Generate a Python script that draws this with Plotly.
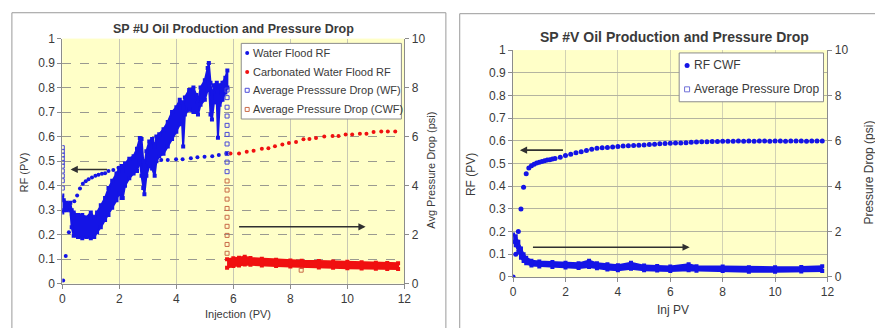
import plotly.graph_objects as go

# ---------------- Left chart (SP #U) data ----------------
wf_rf_x = [0.03, 0.12, 0.23, 0.33, 0.42, 0.52, 0.62, 0.72, 0.82, 0.92, 1.04, 1.16, 1.27, 1.39, 1.5, 1.62,
           1.79, 1.97, 2.2, 2.45, 2.7, 2.95, 3.22, 3.47, 3.7, 3.99, 4.22, 4.51, 4.74, 4.99, 5.26, 5.49, 5.76]
wf_rf_y = [0.013, 0.113, 0.21, 0.28, 0.336, 0.36, 0.388, 0.408, 0.418, 0.426, 0.433, 0.44, 0.444, 0.448, 0.451,
           0.46, 0.464, 0.473, 0.48, 0.488, 0.494, 0.498, 0.502, 0.505, 0.505, 0.508, 0.508, 0.512, 0.516,
           0.518, 0.52, 0.525, 0.531]

cwf_rf_x = [5.9, 6.2, 6.47, 6.71, 7.0, 7.23, 7.46, 7.72, 7.95, 8.2, 8.46, 8.67, 8.9, 9.19, 9.48, 9.69,
            9.94, 10.17, 10.44, 10.67, 10.92, 11.19, 11.42, 11.68]
cwf_rf_y = [0.531, 0.531, 0.538, 0.542, 0.55, 0.553, 0.561, 0.568, 0.574, 0.578, 0.589, 0.59, 0.594, 0.6,
            0.603, 0.603, 0.609, 0.609, 0.612, 0.612, 0.619, 0.621, 0.621, 0.621]

# Average pressure drop (WF), psi: dense band envelope
wf_dp_x = [0.00, 0.05, 0.15, 0.28, 0.33, 0.40, 0.55, 0.70, 0.85, 1.00, 1.12, 1.22, 1.35, 1.50, 1.62, 1.75,
           1.90, 2.00, 2.08, 2.12, 2.20, 2.35, 2.50, 2.62, 2.72, 2.78, 2.84, 2.88, 2.95, 3.05, 3.15, 3.24,
           3.30, 3.40, 3.55, 3.70, 3.85, 4.00, 4.12, 4.20, 4.24, 4.30, 4.45, 4.60, 4.70, 4.76, 4.85, 5.00,
           5.10, 5.14, 5.20, 5.25, 5.32, 5.42, 5.46, 5.52, 5.62, 5.72, 5.79]
wf_dp_hi = [3.6, 3.4, 3.3, 3.3, 3.0, 2.9, 2.8, 2.8, 2.7, 2.9, 2.7, 2.9, 3.2, 3.5, 3.9, 4.2,
            4.5, 4.7, 4.8, 4.6, 4.9, 5.1, 5.2, 5.5, 5.94, 5.9, 5.0, 4.8, 5.4, 5.8, 5.9, 5.6,
            6.0, 6.1, 6.3, 6.6, 7.0, 7.2, 7.5, 7.4, 7.2, 7.6, 7.9, 8.0, 7.7, 7.4, 8.0, 8.3,
            8.8, 9.0, 8.2, 7.6, 8.1, 8.2, 7.8, 8.1, 8.2, 8.4, 8.7]
wf_dp_lo = [2.9, 3.0, 3.0, 3.0, 2.3, 1.95, 1.9, 1.85, 1.9, 1.85, 1.9, 2.1, 2.3, 2.6, 2.8, 3.1,
            3.4, 3.7, 3.5, 3.5, 4.0, 4.3, 4.5, 4.6, 5.0, 4.4, 3.9, 3.65, 4.4, 4.8, 4.7, 4.4,
            5.0, 5.2, 5.3, 5.6, 5.9, 6.2, 6.5, 6.6, 5.6, 6.9, 7.1, 7.0, 7.0, 6.9, 7.3, 7.5,
            7.9, 8.2, 6.9, 6.7, 7.4, 7.4, 5.95, 7.3, 7.5, 7.8, 8.0]
# individual squares (WF): start column and end column
wf_sq_x = [0, 0, 0, 0, 0, 0, 0, 0, 0, 0,
           5.78, 5.78, 5.78, 5.78, 5.78, 5.78, 5.78, 5.78, 5.78, 5.78]
wf_sq_y = [5.55, 5.4, 5.25, 5.1, 4.95, 4.8, 4.6, 4.4, 4.2, 3.9,
           7.9, 7.59, 7.2, 6.84, 6.46, 6.09, 5.70, 5.31, 4.96, 4.57]

# Average pressure drop (CWF), psi
cwf_dp_x = [5.78, 6.0, 6.2, 6.4, 6.6, 7.0, 7.5, 8.0, 8.4, 9.0, 9.5, 10.0, 10.5, 11.0, 11.4, 11.78]
cwf_dp_hi = [1.0, 1.04, 1.06, 1.1, 1.05, 1.02, 0.98, 0.95, 0.93, 0.92, 0.9, 0.89, 0.87, 0.85, 0.84, 0.83]
cwf_dp_lo = [0.65, 0.72, 0.74, 0.78, 0.77, 0.74, 0.72, 0.70, 0.69, 0.66, 0.65, 0.63, 0.62, 0.61, 0.6, 0.6]
cwf_sq_x = [5.78, 5.78, 5.78, 5.78, 5.78, 5.78, 5.78, 5.78, 5.78, 8.38]
cwf_sq_y = [4.19, 3.82, 3.45, 3.07, 2.71, 2.34, 1.97, 1.60, 1.24, 0.55]

# ---------------- Right chart (SP #V) data ----------------
rf_cwf_x = [0, 0.1, 0.2, 0.3, 0.4, 0.5, 0.6, 0.7, 0.8, 0.9, 1.0, 1.1, 1.2, 1.3, 1.4, 1.5, 1.6,
            1.8, 2.0, 2.2, 2.4, 2.6, 2.8, 3.0, 3.2, 3.4, 3.6, 3.8, 4.0, 4.2, 4.4, 4.6, 4.8, 5.0,
            5.2, 5.4, 5.6, 5.8, 6.0, 6.2, 6.4, 6.6, 6.8, 7.0, 7.2, 7.4, 7.6, 7.8, 8.0, 8.2, 8.4,
            8.6, 8.8, 9.0, 9.2, 9.4, 9.6, 9.8, 10.0, 10.2, 10.4, 10.6, 10.8, 11.0, 11.2, 11.4,
            11.6, 11.8]
rf_cwf_y = [0, 0.10, 0.20, 0.30, 0.395, 0.455, 0.48, 0.49, 0.497, 0.502, 0.506, 0.509, 0.512, 0.515,
            0.517, 0.52, 0.522, 0.528, 0.535, 0.541, 0.547, 0.552, 0.557, 0.563, 0.567, 0.569, 0.571,
            0.573, 0.575, 0.577, 0.578, 0.579, 0.581, 0.582, 0.584, 0.585, 0.587, 0.588, 0.589, 0.59,
            0.591, 0.592, 0.594, 0.595, 0.596, 0.596, 0.597, 0.597, 0.598, 0.598, 0.598, 0.599, 0.598,
            0.599, 0.598, 0.599, 0.599, 0.598, 0.599, 0.599, 0.598, 0.599, 0.599, 0.599, 0.598, 0.599,
            0.599, 0.599]

rdp_x = [0.0, 0.1, 0.2, 0.3, 0.4, 0.5, 0.7, 1.0, 1.5, 2.0, 2.5, 2.9, 3.2, 3.6, 4.0, 4.5, 5.0, 5.5,
         6.0, 6.7, 7.0, 8.0, 9.0, 10.0, 11.0, 11.8]
rdp_hi = [1.87, 1.8, 1.55, 1.25, 1.0, 0.85, 0.72, 0.68, 0.66, 0.63, 0.6, 0.72, 0.6, 0.56, 0.52, 0.63,
          0.5, 0.48, 0.46, 0.56, 0.47, 0.46, 0.43, 0.43, 0.44, 0.47]
rdp_lo = [1.55, 1.4, 1.1, 0.85, 0.7, 0.6, 0.5, 0.46, 0.44, 0.42, 0.4, 0.44, 0.38, 0.33, 0.3, 0.36,
          0.3, 0.28, 0.26, 0.3, 0.27, 0.26, 0.23, 0.23, 0.24, 0.26]

# legend labels
legend_left = ["Water Flood RF", "Carbonated Water Flood RF",
               "Average Presssure Drop (WF)", "Average Pressure Drop (CWF)"]
legend_right = ["RF CWF", "Average Pressure Drop"]

BLUE = "#1414E6"
RED = "#F01010"
SQ_BLUE = "#4A4AD8"
SQ_RED = "#C86A48"
SQ_BLUE2 = "#7070D8"
FONT = "Liberation Sans, Arial, sans-serif"
TXT = "#3A3A3A"

fig = go.Figure()


def band(x, lo, hi, color, xa, ya, msize):
    fig.add_trace(go.Scatter(
        x=list(x) + list(reversed(x)), y=list(hi) + list(reversed(lo)),
        xaxis=xa, yaxis=ya, mode="lines+markers", fill="toself", fillcolor=color,
        line=dict(color=color, width=2),
        marker=dict(symbol="square", size=msize, color=color, line=dict(width=0)),
        showlegend=False, hoverinfo="skip"))


# Left chart bands
band(wf_dp_x, wf_dp_lo, wf_dp_hi, BLUE, "x", "y2", 4)
band(cwf_dp_x, cwf_dp_lo, cwf_dp_hi, RED, "x", "y2", 4)

fig.add_trace(go.Scatter(x=wf_rf_x, y=wf_rf_y, xaxis="x", yaxis="y", mode="markers",
                         name=legend_left[0], marker=dict(color=BLUE, size=4, symbol="circle")))
fig.add_trace(go.Scatter(x=cwf_rf_x, y=cwf_rf_y, xaxis="x", yaxis="y", mode="markers",
                         name=legend_left[1], marker=dict(color=RED, size=4, symbol="circle")))
fig.add_trace(go.Scatter(x=wf_sq_x, y=wf_sq_y, xaxis="x", yaxis="y2", mode="markers",
                         name=legend_left[2],
                         marker=dict(color="rgba(0,0,0,0)", size=4, symbol="square",
                                     line=dict(color=SQ_BLUE, width=1))))
fig.add_trace(go.Scatter(x=cwf_sq_x, y=cwf_sq_y, xaxis="x", yaxis="y2", mode="markers",
                         name=legend_left[3],
                         marker=dict(color="rgba(0,0,0,0)", size=4, symbol="square",
                                     line=dict(color=SQ_RED, width=1))))

# Right chart
band(rdp_x, rdp_lo, rdp_hi, BLUE, "x2", "y4", 4)
fig.add_trace(go.Scatter(x=rf_cwf_x, y=rf_cwf_y, xaxis="x2", yaxis="y3", mode="markers",
                         name=legend_right[0], marker=dict(color=BLUE, size=5, symbol="circle")))

W, H = 875, 328
axis_common = dict(showline=True, linecolor="#8C8C8C", linewidth=1, ticks="outside", ticklen=4,
                   tickcolor="#8C8C8C", tickfont=dict(family=FONT, size=12, color=TXT),
                   zeroline=False)

fig.update_layout(
    width=W, height=H, margin=dict(l=0, r=0, t=0, b=0),
    paper_bgcolor="white", plot_bgcolor="#FFFFC8", showlegend=False,
    xaxis=dict(domain=[60 / W, 406 / W], anchor="y", range=[0, 12], dtick=2,
               showgrid=True, gridcolor="#C8C8B4", gridwidth=1, **axis_common),
    yaxis=dict(domain=[(H - 289) / H, (H - 33) / H], anchor="x", range=[0, 1], dtick=0.1,
               showgrid=True, gridcolor="#9A9A90", griddash="dash", **axis_common),
    yaxis2=dict(overlaying="y", side="right", anchor="x", range=[0, 10], dtick=2,
                showgrid=False, **axis_common),
    xaxis2=dict(domain=[516 / W, 834 / W], anchor="y3", range=[0, 12], dtick=2,
                showgrid=True, gridcolor="#D2D2B4", gridwidth=1, **axis_common),
    yaxis3=dict(domain=[(H - 282) / H, (H - 45) / H], anchor="x2", range=[0, 1], dtick=0.1,
                showgrid=True, gridcolor="#B4B4A0", **axis_common),
    yaxis4=dict(overlaying="y3", side="right", anchor="x2", range=[0, 10], dtick=2,
                showgrid=False, **axis_common),
)

# Chart borders and legend boxes + legend symbols
def px_shape(kind, cx, cy, r, fill, line_color, line_w):
    return dict(type=kind, xref="paper", yref="paper", xsizemode="pixel", ysizemode="pixel",
                xanchor=cx / W, yanchor=1 - cy / H, x0=-r, x1=r, y0=-r, y1=r,
                fillcolor=fill, line=dict(color=line_color, width=line_w), layer="above")


shapes = [
    dict(type="rect", xref="paper", yref="paper", x0=9 / W, x1=448 / W, y0=-0.1, y1=1 - 6 / H,
         line=dict(color="#9A9A9A", width=1), fillcolor="rgba(0,0,0,0)", layer="below"),
    dict(type="rect", xref="paper", yref="paper", x0=462 / W, x1=1.1, y0=-0.1, y1=1 - 7 / H,
         line=dict(color="#9A9A9A", width=1), fillcolor="rgba(0,0,0,0)", layer="below"),
    dict(type="rect", xref="paper", yref="paper", x0=241 / W, x1=403 / W, y0=1 - 117 / H, y1=1 - 38 / H,
         line=dict(color="#8C8C8C", width=1), fillcolor="white", layer="above"),
    dict(type="rect", xref="paper", yref="paper", x0=684 / W, x1=830 / W, y0=1 - 99 / H, y1=1 - 48 / H,
         line=dict(color="#8C8C8C", width=1), fillcolor="white", layer="above"),
    px_shape("circle", 247, 48, 2, BLUE, BLUE, 0),
    px_shape("circle", 247, 68, 2, RED, RED, 0),
    px_shape("rect", 247, 87, 2, "white", SQ_BLUE, 1),
    px_shape("rect", 247, 107, 2, "white", SQ_RED, 1),
    px_shape("circle", 692, 61, 2.5, BLUE, BLUE, 0),
    px_shape("rect", 692, 86, 2.5, "white", SQ_BLUE2, 1),
]
fig.update_layout(shapes=shapes)

ann = []


def text(x, y, s, size=12, angle=0, bold=False, anchor="center"):
    ann.append(dict(x=x / W, y=1 - y / H, xref="paper", yref="paper", text=("<b>%s</b>" % s) if bold else s,
                    showarrow=False, textangle=angle, xanchor=anchor, yanchor="middle",
                    font=dict(family=FONT, size=size, color=TXT)))


text(233, 23, "SP #U Oil Production and Pressure Drop", 12.5, bold=True)
text(679, 31, "SP #V Oil Production and Pressure Drop", 14, bold=True)
text(238, 321, "Injection (PV)", 11)
text(678, 316, "Inj PV", 12)
text(21, 173, "RF (PV)", 11, -90)
text(433, 171, "Avg Pressure Drop (psi)", 11, -90)
text(473, 175, "RF (PV)", 12, -90)
text(876, 173, "Pressure Drop (psi)", 12, -90)

for lbl, yc in zip(legend_left, [48, 68, 87, 107]):
    text(251, yc, lbl, 11, anchor="left")
for lbl, yc in zip(legend_right, [61, 86]):
    text(697, yc, lbl, 12, anchor="left")


# Arrows
def arrow(xa, ya, x0, x1, yv):
    ann.append(dict(x=x1, y=yv, ax=x0, ay=yv, xref=xa, yref=ya, axref=xa, ayref=ya, text="",
                    showarrow=True, arrowhead=2, arrowsize=0.9, arrowwidth=1.6, arrowcolor="#303030"))


arrow("x", "y", 1.62, 0.29, 0.466)
arrow("x", "y", 6.15, 10.64, 0.232)
arrow("x2", "y3", 1.96, 0.26, 0.559)
arrow("x2", "y3", 0.7, 6.74, 0.131)

fig.update_layout(annotations=ann)
fig.write_html("out.html")
